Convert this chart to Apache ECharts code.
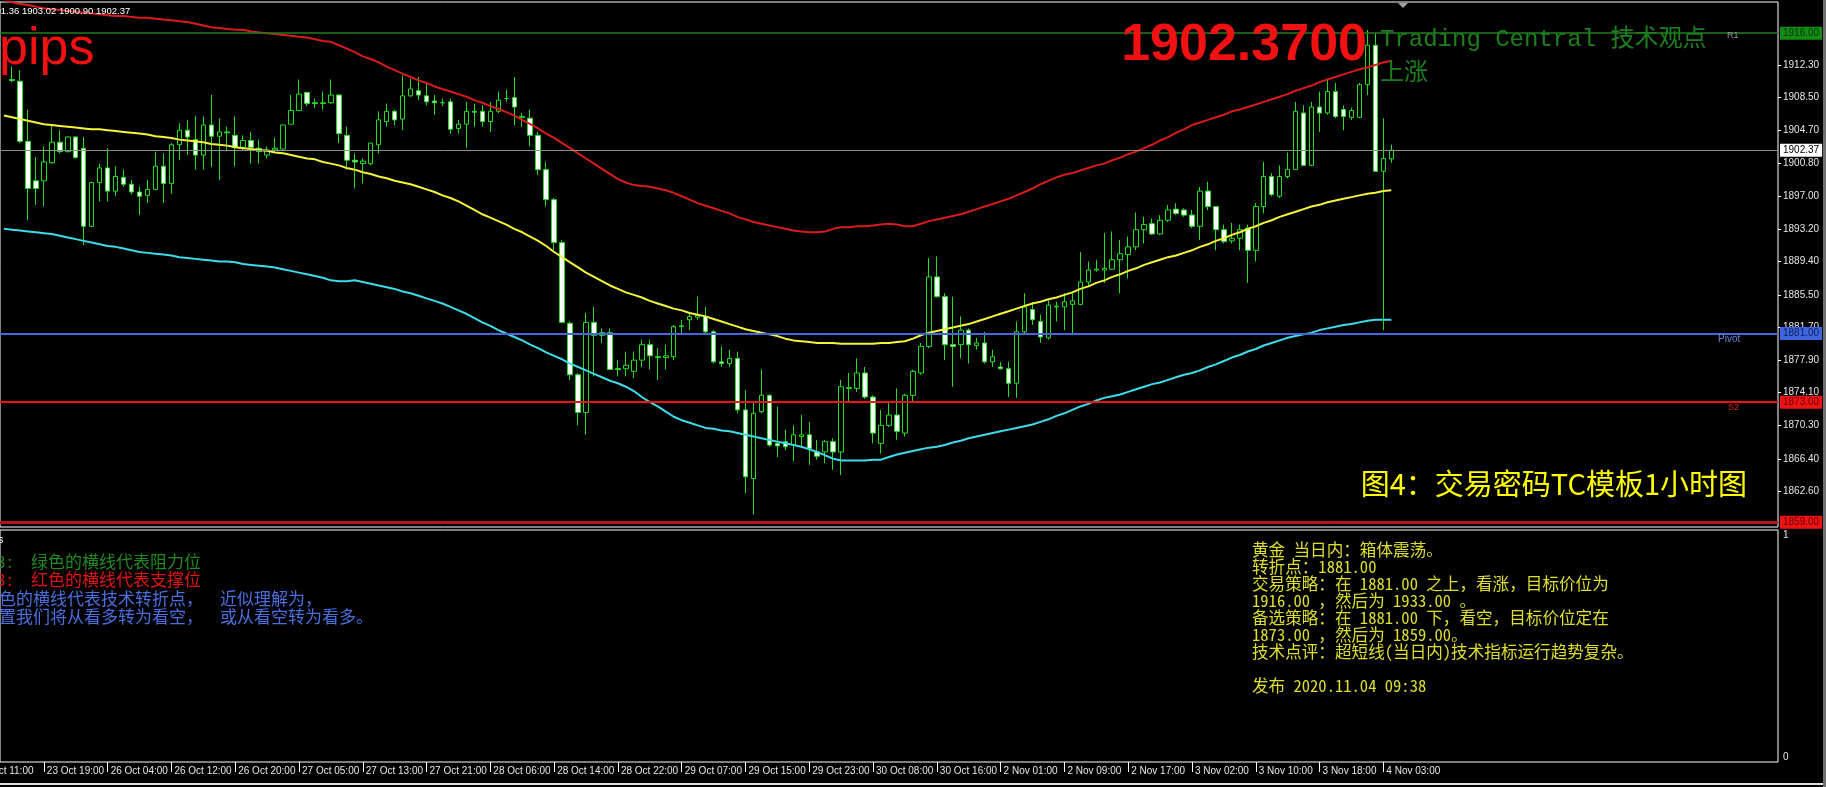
<!DOCTYPE html>
<html><head><meta charset="utf-8">
<script src="https://cdn.jsdelivr.net/npm/echarts/dist/echarts.min.js"></script>
<style>html,body{margin:0;padding:0;background:#000;overflow:hidden}#chart{width:1826px;height:787px}</style>
</head><body><div id="chart"></div>
<script>
// ---- time axis: trading sessions (day label, first hour, last hour) ----
const tradingDays = [['23 Oct',14,23],['26 Oct',1,23],['27 Oct',1,23],['28 Oct',1,23],['29 Oct',1,23],['30 Oct',1,23],['2 Nov',1,23],['3 Nov',1,23],['4 Nov',1,23],['5 Nov',1,23],['6 Nov',1,23]];
const xTickLabels = ['23 Oct 19:00','26 Oct 04:00','26 Oct 12:00','26 Oct 20:00','27 Oct 05:00','27 Oct 13:00','27 Oct 21:00','28 Oct 06:00','28 Oct 14:00','28 Oct 22:00','29 Oct 07:00','29 Oct 15:00','29 Oct 23:00','30 Oct 08:00','30 Oct 16:00','2 Nov 01:00','2 Nov 09:00','2 Nov 17:00','3 Nov 02:00','3 Nov 10:00','3 Nov 18:00','4 Nov 03:00'];
const yTickValues = [1862.6,1866.4,1870.3,1874.1,1877.9,1881.7,1885.5,1889.4,1893.2,1897.0,1900.8,1904.7,1908.5,1912.3];
const levelValues = [1916.00, 1902.37, 1881.00, 1873.00, 1859.00];

// ---- hourly bars [open, high, low, close], first entry = 23 Oct 14:00 (off-screen) ----
const ohlc = [
 null,
 [1910.6,1912.1,1910.3,1910.5],[1910.4,1911.7,1903.2,1903.4],[1903.4,1907.1,1894.2,1897.9],[1898.8,1901.6,1896.0,1897.9],
 [1898.8,1902.8,1895.8,1901.0],[1900.9,1905.3,1900.8,1903.3],[1903.3,1904.7,1902.0,1902.2],[1902.2,1904.0,1902.1,1903.9],[1903.9,1904.0,1901.4,1901.5],
 [1902.6,1903.9,1891.3,1893.5],[1893.5,1898.7,1893.4,1898.6],[1898.6,1900.8,1896.4,1900.3],[1900.3,1902.6,1896.4,1897.6],[1897.6,1900.5,1897.0,1899.3],
 [1899.2,1900.1,1898.1,1898.4],[1898.4,1898.9,1897.2,1897.5],[1897.5,1898.1,1894.8,1897.0],[1897.1,1898.9,1896.2,1897.8],[1897.8,1902.2,1897.7,1900.5],
 [1900.5,1902.0,1896.2,1898.5],[1898.5,1903.2,1897.3,1903.0],[1903.0,1905.5,1901.2,1904.7],[1904.7,1905.9,1901.8,1903.9],[1903.6,1906.4,1900.1,1901.8],
 [1901.8,1906.3,1900.1,1905.3],[1905.3,1908.8,1900.4,1904.0],[1904.0,1906.1,1898.9,1904.5],[1904.5,1905.1,1902.4,1904.4],[1904.1,1906.3,1900.5,1902.7],
 [1902.7,1904.1,1902.4,1903.5],[1903.5,1904.5,1900.8,1902.7],[1902.6,1903.6,1900.8,1902.2],[1901.8,1902.8,1901.4,1902.4],[1902.4,1903.8,1902.2,1902.6],
 [1902.5,1905.3,1902.4,1905.3],[1905.4,1908.8,1905.4,1907.0],[1907.0,1910.6,1906.9,1908.9],[1909.1,1909.2,1907.5,1907.8],[1907.9,1908.4,1907.3,1907.8],
 [1907.8,1909.2,1907.1,1907.9],[1907.9,1910.6,1907.8,1908.8],[1908.8,1908.8,1903.2,1904.3],[1904.1,1905.1,1900.1,1901.2],[1901.2,1902.0,1897.9,1901.0],
 [1900.8,1901.4,1898.5,1901.1],[1900.8,1903.2,1900.6,1903.2],[1903.0,1906.9,1902.0,1905.9],[1905.7,1907.8,1905.1,1906.9],[1906.9,1907.1,1905.3,1905.9],
 [1906.0,1911.1,1904.7,1908.7],[1908.7,1910.7,1908.6,1909.5],[1909.3,1910.9,1908.2,1908.8],[1908.7,1910.2,1907.6,1908.0],[1908.1,1908.8,1906.5,1907.9],
 [1907.9,1908.4,1907.5,1907.9],[1908.0,1908.4,1904.3,1904.8],[1904.9,1905.9,1904.3,1905.4],[1905.4,1908.0,1902.6,1906.9],[1906.9,1907.8,1905.1,1906.8],
 [1906.9,1907.6,1905.1,1905.7],[1905.7,1908.0,1904.5,1906.9],[1906.9,1909.2,1906.7,1908.2],[1908.4,1909.4,1908.0,1908.4],[1908.5,1910.9,1905.3,1907.4],
 [1906.3,1906.7,1905.1,1906.2],[1906.1,1907.1,1902.8,1904.1],[1904.1,1904.5,1899.5,1900.1],[1900.1,1901.0,1895.8,1896.6],[1896.6,1896.8,1890.7,1891.6],
 [1891.6,1891.9,1882.2,1882.3],[1882.2,1882.4,1875.6,1876.2],[1876.2,1876.4,1870.3,1871.8],[1871.8,1883.4,1869.2,1882.3],[1882.3,1884.1,1876.0,1880.8],
 [1881.1,1881.6,1879.9,1880.8],[1881.1,1881.6,1876.8,1876.8],[1876.9,1877.9,1876.0,1876.8],[1876.9,1878.9,1876.0,1877.3],[1876.6,1878.9,1875.8,1877.9],
 [1877.9,1880.3,1877.1,1879.7],[1879.7,1880.3,1876.8,1878.4],[1878.3,1879.3,1875.6,1878.2],[1878.2,1879.7,1876.8,1878.4],[1878.3,1882.0,1877.9,1881.8],
 [1881.8,1882.6,1881.0,1881.9],[1882.6,1883.4,1881.4,1883.0],[1882.9,1885.3,1882.6,1883.1],[1883.0,1884.1,1881.0,1881.2],[1881.2,1881.4,1877.5,1877.7],
 [1877.7,1879.5,1877.1,1877.5],[1877.5,1879.1,1877.1,1878.1],[1878.1,1878.9,1871.7,1872.1],[1872.1,1874.4,1862.4,1864.3],[1864.1,1872.9,1859.9,1871.7],
 [1871.9,1876.8,1871.7,1873.8],[1873.8,1873.9,1867.8,1868.0],[1868.2,1872.5,1866.6,1867.9],[1868.4,1869.8,1867.4,1867.8],[1868.0,1870.3,1866.1,1869.2],
 [1869.0,1871.5,1867.8,1869.2],[1869.2,1870.7,1865.7,1867.6],[1867.2,1868.6,1866.3,1866.7],[1867.2,1868.6,1865.9,1868.4],[1868.4,1868.8,1865.1,1867.2],
 [1867.2,1875.6,1864.5,1874.8],[1874.6,1876.4,1872.9,1874.7],[1874.6,1878.1,1874.2,1876.4],[1876.4,1877.1,1873.4,1873.6],[1873.6,1873.8,1868.2,1869.4],
 [1868.2,1872.1,1867.0,1870.3],[1870.3,1873.1,1870.1,1871.5],[1871.5,1874.6,1868.6,1869.6],[1869.4,1874.0,1869.0,1873.8],[1873.8,1876.8,1872.9,1876.6],
 [1876.4,1879.9,1876.2,1879.5],[1879.5,1889.8,1879.3,1887.6],[1887.6,1890.0,1885.2,1885.3],[1885.3,1885.7,1877.9,1879.7],[1879.7,1885.3,1874.8,1879.5],
 [1879.7,1883.0,1878.1,1881.4],[1881.4,1881.6,1877.5,1879.7],[1879.6,1880.5,1879.1,1879.9],[1879.9,1881.2,1877.5,1877.7],[1877.7,1879.1,1877.1,1878.3],
 [1877.1,1877.7,1876.8,1876.9],[1876.9,1877.7,1873.6,1875.2],[1875.2,1882.4,1873.5,1881.2],[1881.2,1885.7,1881.0,1884.1],[1883.8,1884.7,1882.0,1882.6],
 [1882.4,1883.2,1879.9,1880.6],[1880.5,1884.9,1880.3,1884.3],[1884.1,1884.7,1882.4,1884.2],[1884.1,1885.7,1881.4,1884.7],[1884.4,1885.7,1880.8,1884.8],
 [1884.4,1890.5,1884.3,1887.0],[1887.0,1889.4,1886.5,1888.4],[1888.4,1889.6,1888.2,1888.5],[1888.4,1892.7,1886.9,1888.6],[1888.5,1892.9,1888.4,1889.6],
 [1889.6,1891.9,1885.7,1890.3],[1890.2,1892.3,1887.4,1891.1],[1891.1,1895.1,1890.7,1893.1],[1893.1,1894.6,1891.5,1893.7],[1893.8,1894.4,1892.5,1892.6],
 [1892.6,1894.8,1892.5,1894.2],[1894.2,1896.0,1894.0,1895.4],[1895.5,1896.2,1894.8,1895.0],[1895.4,1895.6,1894.6,1894.8],[1894.8,1895.4,1893.3,1893.5],
 [1893.5,1898.1,1891.9,1897.6],[1897.6,1898.7,1895.4,1895.8],[1895.8,1895.8,1890.7,1893.1],[1893.1,1893.7,1891.5,1891.7],[1891.8,1893.9,1891.5,1892.1],
 [1892.1,1893.7,1890.7,1893.1],[1893.3,1893.7,1886.9,1890.7],[1890.7,1896.2,1889.4,1895.8],[1895.8,1901.0,1895.0,1899.3],[1899.3,1899.7,1897.0,1897.2],
 [1897.0,1900.6,1896.8,1899.3],[1899.3,1902.1,1899.1,1900.1],[1900.1,1908.0,1900.1,1906.9],[1906.7,1907.6,1900.5,1900.6],[1900.6,1908.0,1900.5,1907.4],
 [1907.4,1909.2,1904.5,1906.7],[1906.7,1910.7,1906.5,1909.2],[1909.2,1910.2,1906.1,1906.3],[1907.1,1907.6,1904.7,1906.3],[1906.2,1907.3,1905.9,1907.0],
 [1906.2,1910.2,1906.1,1910.0],[1910.0,1916.4,1908.8,1914.6],[1914.6,1916.0,1899.9,1899.9],[1899.9,1906.1,1881.4,1901.4],[1901.36,1903.02,1900.90,1902.37]
];

// ---- band lines, first entry = 23 Oct 14:00 ----
const upperBand = [
 1919.8,1919.6,1919.4,1919.3,1919.1,1918.9,1918.8,1918.7,1918.6,1918.5,
 1918.4,1918.3,1918.2,1918.1,1918.0,1918.0,1917.9,1917.8,1917.8,1917.7,
 1917.6,1917.5,1917.4,1917.3,1917.1,1916.9,1916.7,1916.6,1916.5,1916.4,
 1916.4,1916.2,1916.1,1916.0,1915.9,1915.8,1915.7,1915.6,1915.5,1915.3,
 1915.1,1915.0,1914.6,1914.2,1913.8,1913.3,1913.0,1912.6,1912.1,1911.7,
 1911.3,1910.9,1910.5,1910.2,1909.8,1909.5,1909.2,1908.9,1908.6,1908.2,
 1907.9,1907.5,1907.2,1906.8,1906.4,1905.9,1905.4,1904.9,1904.3,1903.8,
 1903.2,1902.6,1902.0,1901.4,1900.8,1900.2,1899.6,1899.0,1898.6,1898.3,
 1898.2,1898.1,1897.9,1897.7,1897.4,1897.0,1896.6,1896.2,1895.9,1895.6,
 1895.3,1895.0,1894.6,1894.3,1894.0,1893.8,1893.6,1893.4,1893.2,1893.0,
 1892.9,1892.8,1892.8,1892.9,1893.2,1893.4,1893.4,1893.5,1893.5,1893.6,
 1893.7,1893.8,1893.7,1893.5,1893.5,1893.8,1894.1,1894.3,1894.5,1894.7,
 1894.9,1895.2,1895.5,1895.8,1896.1,1896.4,1896.7,1897.1,1897.5,1897.9,
 1898.4,1898.8,1899.2,1899.5,1899.7,1900.0,1900.3,1900.6,1900.8,1901.2,
 1901.5,1901.9,1902.2,1902.6,1903.0,1903.5,1903.9,1904.4,1904.8,1905.3,
 1905.6,1905.9,1906.2,1906.5,1906.9,1907.1,1907.4,1907.7,1908.0,1908.3,
 1908.6,1908.9,1909.3,1909.6,1909.9,1910.3,1910.6,1910.9,1911.2,1911.5,
 1911.8,1912.0,1912.3,1912.6,1912.8
];
const middleLine = [
 1906.4,1906.2,1906.0,1905.8,1905.6,1905.4,1905.3,1905.2,1905.1,1905.0,
 1904.9,1904.8,1904.8,1904.7,1904.6,1904.5,1904.4,1904.3,1904.2,1904.0,
 1903.9,1903.8,1903.6,1903.5,1903.4,1903.3,1903.1,1903.0,1902.9,1902.7,
 1902.6,1902.5,1902.4,1902.3,1902.1,1902.0,1901.8,1901.6,1901.4,1901.3,
 1901.0,1900.8,1900.6,1900.3,1900.1,1899.8,1899.6,1899.3,1899.1,1898.8,
 1898.6,1898.4,1898.1,1897.8,1897.5,1897.1,1896.8,1896.4,1895.9,1895.4,
 1894.9,1894.5,1894.1,1893.7,1893.2,1892.8,1892.3,1891.8,1891.2,1890.5,
 1889.9,1889.3,1888.7,1888.1,1887.6,1887.1,1886.6,1886.2,1885.8,1885.5,
 1885.2,1884.8,1884.5,1884.2,1883.9,1883.7,1883.4,1883.2,1883.0,1882.7,
 1882.4,1882.1,1881.8,1881.5,1881.3,1881.1,1880.9,1880.7,1880.4,1880.2,
 1880.1,1880.0,1879.9,1879.9,1879.9,1879.8,1879.8,1879.8,1879.8,1879.8,
 1879.9,1879.9,1880.0,1880.1,1880.4,1880.8,1881.1,1881.3,1881.5,1881.7,
 1881.9,1882.1,1882.4,1882.7,1883.0,1883.3,1883.6,1883.9,1884.2,1884.5,
 1884.7,1885.0,1885.2,1885.5,1885.8,1886.2,1886.5,1886.9,1887.2,1887.6,
 1887.9,1888.3,1888.6,1889.0,1889.3,1889.6,1889.9,1890.1,1890.4,1890.7,
 1891.1,1891.4,1891.8,1892.1,1892.5,1892.8,1893.2,1893.5,1893.9,1894.2,
 1894.6,1894.9,1895.2,1895.5,1895.8,1896.0,1896.3,1896.5,1896.7,1896.9,
 1897.1,1897.3,1897.4,1897.6,1897.7
];
const lowerBand = [
 1893.2,1893.1,1893.0,1892.9,1892.8,1892.7,1892.6,1892.4,1892.2,1892.0,
 1891.8,1891.6,1891.4,1891.2,1891.1,1890.9,1890.7,1890.5,1890.4,1890.3,
 1890.2,1890.1,1889.9,1889.8,1889.7,1889.6,1889.5,1889.4,1889.4,1889.3,
 1889.1,1889.0,1888.9,1888.8,1888.7,1888.5,1888.3,1888.1,1887.9,1887.7,
 1887.5,1887.2,1887.1,1887.1,1887.2,1887.0,1886.8,1886.6,1886.4,1886.2,
 1885.9,1885.7,1885.4,1885.1,1884.8,1884.5,1884.1,1883.7,1883.3,1882.8,
 1882.3,1881.9,1881.4,1881.0,1880.6,1880.2,1879.7,1879.3,1878.8,1878.4,
 1878.0,1877.5,1877.1,1876.7,1876.3,1875.9,1875.5,1875.2,1874.8,1874.3,
 1873.6,1873.0,1872.5,1871.9,1871.3,1870.9,1870.6,1870.3,1870.0,1869.9,
 1869.7,1869.6,1869.4,1869.2,1869.0,1868.8,1868.6,1868.4,1868.2,1868.0,
 1867.8,1867.5,1867.2,1866.8,1866.4,1866.2,1866.2,1866.2,1866.2,1866.3,
 1866.3,1866.6,1866.9,1867.1,1867.3,1867.5,1867.7,1867.8,1868.0,1868.3,
 1868.5,1868.8,1869.0,1869.2,1869.4,1869.6,1869.8,1870.0,1870.2,1870.4,
 1870.7,1871.0,1871.4,1871.7,1872.1,1872.5,1872.8,1873.2,1873.5,1873.7,
 1873.9,1874.2,1874.5,1874.8,1875.1,1875.3,1875.6,1875.9,1876.2,1876.4,
 1876.7,1877.1,1877.4,1877.8,1878.2,1878.5,1878.9,1879.2,1879.6,1879.9,
 1880.2,1880.5,1880.7,1880.9,1881.1,1881.4,1881.6,1881.8,1882.0,1882.1,
 1882.3,1882.5,1882.6,1882.6,1882.6
];

const headerText = '1901.36 1903.02 1900.90 1902.37';
const leftNotes = ['R3:  绿色的横线代表阻力位','S3:  红色的横线代表支撑位','蓝色的横线代表技术转折点，  近似理解为，','位置我们将从看多转为看空，  或从看空转为看多。'];
const rightNotes = ['黄金 当日内：箱体震荡。','转折点：1881.00','交易策略：在 1881.00 之上，看涨，目标价位为','1916.00 ，然后为 1933.00 。','备选策略：在 1881.00 下，看空，目标价位定在','1873.00 ，然后为 1859.00。','技术点评：超短线(当日内)技术指标运行趋势复杂。','','发布 2020.11.04 09:38'];

// ---- build ----
const NCAT = 223;
const categories = [];
tradingDays.forEach(function (d) {
  for (let h = d[1]; h <= d[2]; h++) categories.push(d[0] + ' ' + (h < 10 ? '0' : '') + h + ':00');
});
categories.length = NCAT;
const tickSet = new Set(xTickLabels);
const showTick = function (i, v) { return tickSet.has(categories[i]); };

const candleData = ohlc.map(function (r) { return r ? [r[0], r[3], r[2], r[1]] : '-'; });

const MONO = '"Noto Sans Mono CJK SC","Noto Sans CJK SC",monospace';
const SANS = '"Liberation Sans",Arial,sans-serif';
const levelStyles = [
  {line: {color: '#207d20', width: 1.5}, bg: '#148c14', fg: '#053805'},
  {line: {color: '#8e8e8e', width: 1}, bg: '#ffffff', fg: '#000000'},
  {line: {color: '#4467dc', width: 2}, bg: '#3f66de', fg: '#0d1f5c'},
  {line: {color: '#ee1313', width: 2}, bg: '#ee1313', fg: '#6a0000'},
  {line: {color: '#b5141c', width: 3}, bg: '#ee1313', fg: '#6a0000'}
];

const graphics = [];
function txt(t, x, y, font, fill, align) {
  graphics.push({type: 'text', x: x, y: y, z: 100, silent: true,
    style: {text: t, font: font, fill: fill, align: align || 'left', verticalAlign: 'middle', textAlign: align || 'left', textVerticalAlign: 'middle'}});
}
txt(headerText, -15, 11, '9.5px ' + SANS, '#ffffff');
txt('pips', -1, 50, '52px ' + SANS, '#f01212');
txt('1902.3700', 1367, 46, 'bold 52px ' + SANS, '#f01212', 'right');
txt('Trading Central 技术观点', 1380, 40, '24px "Liberation Mono","Noto Sans CJK SC",monospace', '#1d801d');
txt('上涨', 1380, 71, '24px "Noto Sans CJK SC"', '#1d801d');
txt('R1', 1727, 36, '9px ' + SANS, '#9a9a9a');
txt('Pivot', 1718, 339, '10px ' + SANS, '#6f84d8');
txt('S2', 1728, 408, '9px ' + SANS, '#d42020');
txt('图4：交易密码TC模板1小时图', 1747, 484, '29px "Noto Sans CJK SC"', '#ffff00', 'right');
txt('23 Oct 11:00', -23, 771, '10px ' + SANS, '#e6e6e6');
txt('s', -2, 540, '11px ' + SANS, '#ffffff');
const leftX = [-11.5, -11.5, -18, -18], leftY = [562, 580, 599, 617];
const leftColors = ['#1f8a1f', '#e01414', '#4b6fe0', '#4b6fe0'];
leftNotes.forEach(function (t, i) { txt(t, leftX[i], leftY[i], '17px ' + MONO, leftColors[i]); });
rightNotes.forEach(function (t, i) { if (t) txt(t, 1252, 550 + 17 * i, '16.6px ' + MONO, '#dede2e'); });
graphics.push({type: 'polygon', z: 100, silent: true, shape: {points: [[1398, 3], [1408, 3], [1403, 8]]}, style: {fill: '#a0a0a0'}});
graphics.push({type: 'rect', z: 100, silent: true, shape: {x: 0, y: 783, width: 1826, height: 2}, style: {fill: '#e0e0e0'}});
graphics.push({type: 'rect', z: 100, silent: true, shape: {x: 1823, y: 0, width: 3, height: 787}, style: {fill: '#707070'}});

const chart = echarts.init(document.getElementById('chart'), null, {renderer: 'canvas'});
chart.setOption({
  backgroundColor: '#000',
  animation: false,
  grid: [
    {left: -6, top: 2, width: 1784, height: 525, show: true, borderColor: '#ffffff', borderWidth: 1, backgroundColor: 'transparent'},
    {left: -6, top: 530, width: 1784, height: 232, show: true, borderColor: '#ffffff', borderWidth: 1, backgroundColor: 'transparent'}
  ],
  xAxis: [
    {type: 'category', gridIndex: 0, data: categories, boundaryGap: true, show: false},
    {type: 'category', gridIndex: 1, data: categories, boundaryGap: true,
     axisLine: {show: false}, splitLine: {show: false},
     axisTick: {show: true, alignWithLabel: true, interval: showTick, length: 10, lineStyle: {color: '#ffffff'}},
     axisLabel: {interval: showTick, align: 'left', color: '#e6e6e6', fontSize: 10, fontFamily: SANS, margin: 4, padding: [0, 0, 0, 3]}}
  ],
  yAxis: [
    {type: 'value', gridIndex: 0, position: 'right', min: 1858.45, max: 1919.64,
     axisLine: {show: false}, splitLine: {show: false},
     axisTick: {show: true, length: 3, lineStyle: {color: '#ffffff'}, customValues: yTickValues},
     axisLabel: {customValues: yTickValues, formatter: function (v) { return v.toFixed(2); }, color: '#e6e6e6', fontSize: 10, fontFamily: SANS, margin: 5}},
    {type: 'value', gridIndex: 1, position: 'right', min: 0, max: 1, interval: 1,
     axisLine: {show: false}, splitLine: {show: false}, axisTick: {show: false},
     axisLabel: {color: '#e6e6e6', fontSize: 10, fontFamily: SANS, margin: 5, verticalAlignMinLabel: 'bottom', verticalAlignMaxLabel: 'top'}}
  ],
  series: [
    {type: 'candlestick', xAxisIndex: 0, yAxisIndex: 0, data: candleData, barWidth: 5,
     itemStyle: {color: '#000000', color0: '#ffffff', borderColor: '#22dd22', borderColor0: '#22dd22', borderColorDoji: '#22dd22', borderWidth: 1}},
    {type: 'line', xAxisIndex: 0, yAxisIndex: 0, data: upperBand, symbol: 'none', lineStyle: {color: '#d81c1c', width: 2}},
    {type: 'line', xAxisIndex: 0, yAxisIndex: 0, data: middleLine, symbol: 'none', lineStyle: {color: '#f4f43c', width: 2}},
    {type: 'line', xAxisIndex: 0, yAxisIndex: 0, data: lowerBand, symbol: 'none', lineStyle: {color: '#3edcea', width: 2}},
    {type: 'line', xAxisIndex: 0, yAxisIndex: 0, data: [], symbol: 'none',
     markLine: {silent: true, symbol: ['none', 'none'], animation: false,
       label: {show: true, position: 'end', distance: 2, fontSize: 10, fontFamily: SANS, padding: [2, 3, 1, 3],
               formatter: function (p) { return Number(p.value).toFixed(2); }},
       data: levelValues.map(function (v, i) {
         const s = levelStyles[i];
         return {yAxis: v, lineStyle: {color: s.line.color, width: s.line.width, type: 'solid'},
                 label: {backgroundColor: s.bg, color: s.fg}};
       })}},
    {type: 'line', xAxisIndex: 1, yAxisIndex: 1, data: [], symbol: 'none'}
  ],
  graphic: graphics
});
</script>
</body></html>
